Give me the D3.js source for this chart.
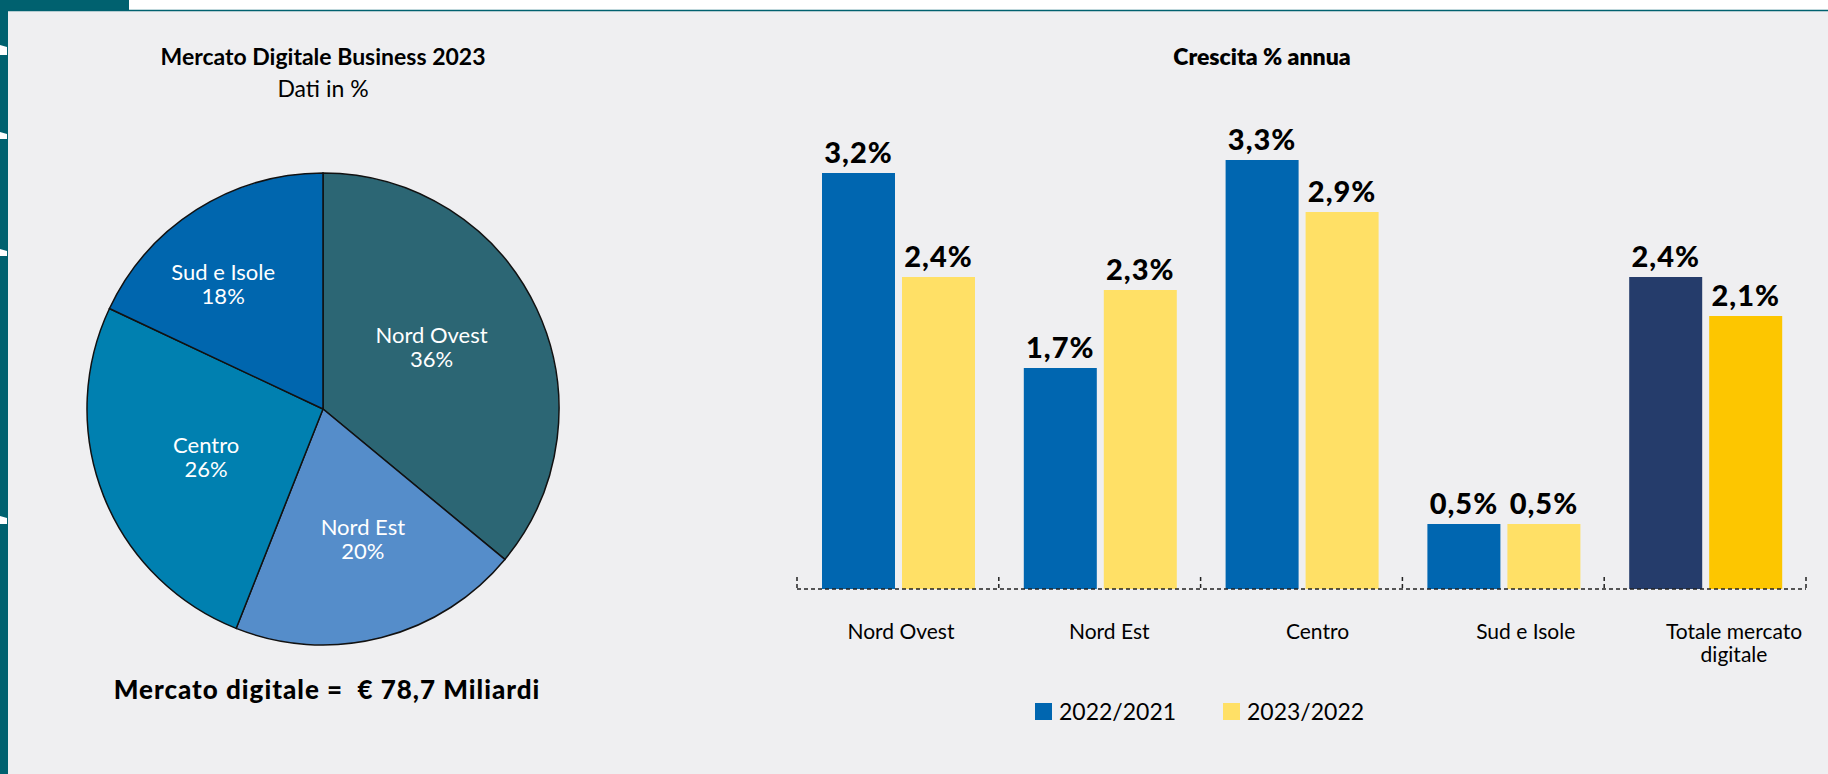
<!DOCTYPE html>
<html>
<head>
<meta charset="utf-8">
<script src="https://cdn.jsdelivr.net/npm/d3@7"></script>
<style>
  body { margin: 0; background: #fff; }
  svg text { font-family: Lato, "Open Sans", sans-serif; }
</style>
</head>
<body>
<div id="chart"></div>
<script>
// pie data
const pieRegions = ["Nord Ovest", "Nord Est", "Centro", "Sud e Isole"];
const pieShares = [36, 20, 26, 18];
const pieColors = ["#2c6674", "#558dca", "#0080b0", "#0066ae"];

// bar data
const categories = ["Nord Ovest", "Nord Est", "Centro", "Sud e Isole", "Totale mercato digitale"];
const series = ["2022/2021", "2023/2022"];
const growth2022 = [3.2, 1.7, 3.3, 0.5, 2.4];
const growth2023 = [2.4, 2.3, 2.9, 0.5, 2.1];

const W = 1828, H = 774;
const svg = d3.select("#chart").append("svg")
    .attr("width", W).attr("height", H);

// frame
const teal = "#00616f";
svg.append("rect").attr("x", 0).attr("y", 10).attr("width", W).attr("height", H - 10).attr("fill", "#efeff1");
svg.append("rect").attr("x", 0).attr("y", 0).attr("width", 129).attr("height", 11).attr("fill", teal);
svg.append("rect").attr("x", 0).attr("y", 0).attr("width", 8).attr("height", H).attr("fill", teal);
svg.append("line").attr("x1", 8).attr("x2", W).attr("y1", 10.5).attr("y2", 10.5)
   .attr("stroke", teal).attr("stroke-width", 1.5);
[[45, 55], [132, 139], [249, 256], [516, 524]].forEach(m => {
    svg.append("path")
       .attr("d", `M0,${m[0]}L7,${m[0] + 2}L7,${m[1]}L0,${m[1]}Z`)
       .attr("fill", "#fff");
});

// ---------- pie ----------
const cx = 323, cy = 409, R = 236;
svg.append("text").attr("x", cx).attr("y", 65).attr("text-anchor", "middle")
   .style("font-size", "23px").style("font-weight", 700)
   .text("Mercato Digitale Business 2023");
svg.append("text").attr("x", cx).attr("y", 97).attr("text-anchor", "middle")
   .style("font-size", "23px")
   .text("Dati in %");

const pieData = pieRegions.map((r, i) => ({region: r, share: pieShares[i], color: pieColors[i]}));
const pie = d3.pie().value(d => d.share).sort(null);
const arc = d3.arc().innerRadius(0).outerRadius(R);
const labelArc = d3.arc().innerRadius(0).outerRadius(R * 1.12);
// small manual nudges so labels sit like the original (best-fit placement)
const labelNudge = [[-11, -7], [7, 1], [6, -2], [-29, -14]];

const pg = svg.append("g").attr("transform", `translate(${cx},${cy})`);
pg.selectAll("path").data(pie(pieData)).enter().append("path")
  .attr("d", arc)
  .attr("fill", d => d.data.color)
  .attr("stroke", "#111").attr("stroke-width", 1.5);

const pl = pg.selectAll(".plabel").data(pie(pieData)).enter().append("text")
  .attr("class", "plabel")
  .attr("transform", (d, i) => {
      const c = labelArc.centroid(d);
      return `translate(${c[0] + labelNudge[i][0]},${c[1] + labelNudge[i][1]})`;
  })
  .attr("text-anchor", "middle")
  .attr("fill", "#fff")
  .style("font-size", "22px");
pl.append("tspan").attr("x", 0).attr("y", -3).text(d => d.data.region);
pl.append("tspan").attr("x", 0).attr("y", 21).text(d => d.data.share + "%");

svg.append("text").attr("x", cx + 4).attr("y", 699).attr("text-anchor", "middle")
   .style("font-size", "26px").style("font-weight", 900)
   .style("letter-spacing", "1px").style("white-space", "pre")
   .text("Mercato digitale =  € 78,7 Miliardi");

// ---------- bars ----------
const fmt = d3.formatLocale({decimal: ",", thousands: ".", grouping: [3], currency: ["€", ""]}).format(".1f");

const x0 = d3.scaleBand().domain(categories).range([797, 1806]);
const x1 = d3.scaleBand().domain(series).range([25, 178]).paddingInner(0.0875);
const y = d3.scaleLinear().domain([0, 3.3]).range([589, 160]);
const color = d3.scaleOrdinal().domain(series).range(["#0066b0", "#ffe066"]);
const totalColor = d3.scaleOrdinal().domain(series).range(["#253c6b", "#fdc600"]);
const labelX = d3.scalePoint().domain(categories).range([901, 1734]);

svg.append("text").attr("x", 1262).attr("y", 65).attr("text-anchor", "middle")
   .style("font-size", "23px").style("font-weight", 800)
   .text("Crescita % annua");

const rows = categories.map((c, i) => ({
    cat: c,
    vals: [{s: series[0], v: growth2022[i]}, {s: series[1], v: growth2023[i]}]
}));

const groups = svg.selectAll(".grp").data(rows).enter().append("g")
   .attr("class", "grp")
   .attr("transform", d => `translate(${x0(d.cat)},0)`);

groups.selectAll("rect").data(d => d.vals.map(v => ({...v, cat: d.cat}))).enter().append("rect")
   .attr("x", d => x1(d.s))
   .attr("y", d => y(d.v))
   .attr("width", x1.bandwidth())
   .attr("height", d => y(0) - y(d.v))
   .attr("fill", d => d.cat === categories[categories.length - 1] ? totalColor(d.s) : color(d.s));

groups.selectAll(".val").data(d => d.vals).enter().append("text")
   .attr("class", "val")
   .attr("x", d => x1(d.s) + x1.bandwidth() / 2)
   .attr("y", d => y(d.v) - 10)
   .attr("text-anchor", "middle")
   .style("font-size", "29px").style("font-weight", 900)
   .style("letter-spacing", "1px")
   .text(d => fmt(d.v) + "%");

// dashed baseline with ticks at band edges
const axisG = svg.append("g").attr("stroke", "#222").attr("stroke-width", 1.5).attr("stroke-dasharray", "4,3");
axisG.append("line").attr("x1", x0.range()[0]).attr("x2", x0.range()[1])
   .attr("y1", y(0)).attr("y2", y(0));
categories.map(c => x0(c)).concat([x0.range()[1]]).forEach(xx => {
    axisG.append("line").attr("x1", xx).attr("x2", xx).attr("y1", y(0) - 12).attr("y2", y(0));
});

// category labels
const cl = svg.selectAll(".cat").data(categories).enter().append("text")
   .attr("class", "cat")
   .attr("text-anchor", "middle")
   .style("font-size", "21px");
cl.each(function(c) {
    const t = d3.select(this);
    const lines = c === "Totale mercato digitale" ? ["Totale mercato", "digitale"] : [c];
    lines.forEach((ln, i) => {
        t.append("tspan").attr("x", labelX(c)).attr("y", 639 + i * 23).text(ln);
    });
});

// legend
const legend = svg.append("g").attr("transform", "translate(1035,703)");
const legX = [0, 188];
series.forEach((s, i) => {
    legend.append("rect").attr("x", legX[i]).attr("y", 0)
          .attr("width", 17).attr("height", 17).attr("fill", color(s));
    legend.append("text").attr("x", legX[i] + 24).attr("y", 17)
          .style("font-size", "23px").text(s);
});
</script>
</body>
</html>
